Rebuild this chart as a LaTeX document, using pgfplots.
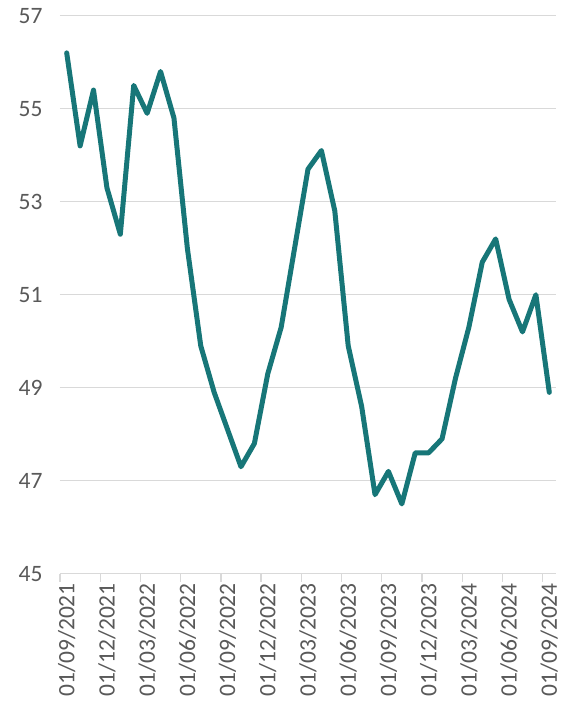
\documentclass[border=0pt]{standalone}
\usepackage{fontspec}
\setmainfont{Carlito}
\usepackage{pgfplots}
\pgfplotsset{compat=1.18}
\definecolor{lineteal}{RGB}{23,118,120}
\definecolor{gridgray}{RGB}{217,217,217}
\definecolor{labgray}{RGB}{89,89,89}
\begin{document}
\begin{tikzpicture}
\useasboundingbox (-60pt,-135.3pt) rectangle (505pt,573.7pt);
\begin{axis}[
  at={(0pt,0pt)}, anchor=south west,
  width=496pt, height=558pt, scale only axis,
  xmin=0, xmax=37, ymin=45, ymax=57,
  ytick={45,47,49,51,53,55,57},
  xtick={0.5,3.5,6.5,9.5,12.5,15.5,18.5,21.5,24.5,27.5,30.5,33.5,36.5},
  xticklabels={01/09/2021,01/12/2021,01/03/2022,01/06/2022,01/09/2022,01/12/2022,01/03/2023,01/06/2023,01/09/2023,01/12/2023,01/03/2024,01/06/2024,01/09/2024},
  minor xtick={0,3,6,9,12,15,18,21,24,27,30,33,36},
  major tick length=0pt,
  minor tick length=8pt,
  tick align=outside,
  minor x tick style={gridgray, line width=1.3pt},
  axis x line*=bottom,
  axis y line*=left,
  x axis line style={gridgray, line width=1.3pt, -},
  y axis line style={draw=none},
  ymajorgrids,
  grid style={gridgray, line width=1.3pt},
  minor grid style={draw=none},
  /pgf/number format/assume math mode=true,
  tick label style={font=\fontsize{23.5}{24}\selectfont, color=labgray},
  x tick label style={rotate=90, anchor=east, xshift=-6pt},
  y tick label style={xshift=-14pt},
  clip=false,
]
\addplot[lineteal, line width=5pt, line join=round, line cap=round, mark=none] coordinates {
(0.5,56.2) (1.5,54.2) (2.5,55.4) (3.5,53.3) (4.5,52.3) (5.5,55.5) (6.5,54.9) (7.5,55.8) (8.5,54.8) (9.5,52.0)
(10.5,49.9) (11.5,48.9) (12.5,48.1) (13.5,47.3) (14.5,47.8) (15.5,49.3) (16.5,50.3) (17.5,52.0) (18.5,53.7) (19.5,54.1)
(20.5,52.8) (21.5,49.9) (22.5,48.6) (23.5,46.7) (24.5,47.2) (25.5,46.5) (26.5,47.6) (27.5,47.6) (28.5,47.9) (29.5,49.2)
(30.5,50.3) (31.5,51.7) (32.5,52.2) (33.5,50.9) (34.5,50.2) (35.5,51.0) (36.5,48.9)
};
\end{axis}
\end{tikzpicture}
\end{document}
